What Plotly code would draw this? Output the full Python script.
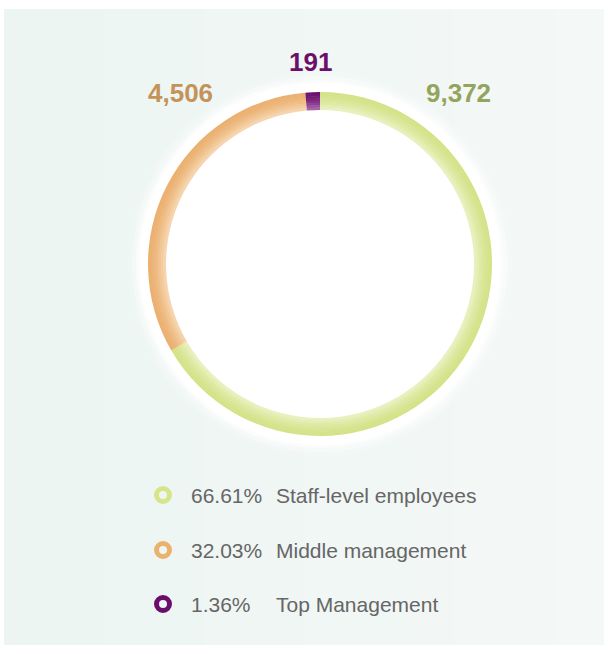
import plotly.graph_objects as go

# ---- data ----
categories = ["Staff-level employees", "Middle management", "Top Management"]
values = [9372, 4506, 191]
percents = [66.61, 32.03, 1.36]
value_labels = ["9,372", "4,506", "191"]

# ---- styles ----
outer_colors = [(212, 226, 136), (235, 176, 112), (108, 14, 110)]
inner_colors = [(232, 240, 190), (245, 212, 174), (166, 100, 168)]
label_colors = ["#93a45d", "#c4935a", "#6b0f6b"]
legend_marker_colors = ["#d6e48a", "#ebb26e", "#6b0d6b"]

W, H = 604, 645
CX, CY = 320, 264
R_OUT, R_IN = 172, 154


def dom(r):
    return dict(x=[(CX - r) / W, (CX + r) / W],
                y=[1 - (CY + r) / H, 1 - (CY - r) / H])


def mix(a, b, t):
    return "rgb(%d,%d,%d)" % tuple(round(a[k] + (b[k] - a[k]) * t) for k in range(3))


fig = go.Figure()

# ring drawn as concentric bands for a radial gradient (outer saturated, inner light)
nb = 8
step = (R_OUT - R_IN) / nb
for i in range(nb):
    ro = R_OUT - i * step + (0.6 if i > 0 else 0)
    ri = R_OUT - (i + 1) * step
    t = (i / (nb - 1)) ** 1.6
    cols = [mix(o, n, t) for o, n in zip(outer_colors, inner_colors)]
    fig.add_trace(go.Pie(
        values=values, labels=categories, domain=dom(ro), hole=ri / ro,
        sort=False, direction="clockwise", rotation=0,
        marker=dict(colors=cols, line=dict(width=0)),
        textinfo="none", hoverinfo="label+value", showlegend=False,
    ))

# legend markers
legend_y = [495, 550, 604]
fig.add_trace(go.Scatter(
    x=[163] * len(categories), y=legend_y, mode="markers",
    marker=dict(symbol="circle-open", size=13,
                color=legend_marker_colors,
                line=dict(width=5, color=legend_marker_colors)),
    hoverinfo="skip", showlegend=False,
))

shapes = []
# background panel with subtle horizontal gradient
n = 12
c0 = (236, 245, 242)
c1 = (244, 248, 247)
x0, x1 = 4, 604
for i in range(n):
    t = i / (n - 1)
    c = tuple(round(c0[k] + (c1[k] - c0[k]) * t) for k in range(3))
    shapes.append(dict(type="rect", xref="x", yref="y", layer="below",
                       x0=x0 + (x1 - x0) * i / n, x1=x0 + (x1 - x0) * (i + 1) / n + 0.5,
                       y0=9, y1=645, line=dict(width=0),
                       fillcolor="rgb(%d,%d,%d)" % c))
# white glow around ring
for r, op in [(192, 0.15), (188, 0.3), (184, 0.55), (181, 0.85), (179, 1.0)]:
    shapes.append(dict(type="circle", xref="x", yref="y", layer="below",
                       x0=CX - r, x1=CX + r, y0=CY - r, y1=CY + r,
                       line=dict(width=0), fillcolor="white", opacity=op))

annotations = []
label_pos = [(458, 93), (180, 93), (310, 62)]
for txt, (lx, ly), col in zip(value_labels, label_pos, label_colors):
    annotations.append(dict(
        x=lx, y=ly, xref="x", yref="y", showarrow=False,
        text="<b>%s</b>" % txt,
        font=dict(family="Liberation Sans, Arial", size=26, color=col),
        xanchor="center", yanchor="middle"))

for p, cat, ly in zip(percents, categories, legend_y):
    annotations.append(dict(
        x=189, y=ly, xref="x", yref="y", showarrow=False,
        text="%.2f%%" % p, xanchor="left", yanchor="middle",
        font=dict(family="Liberation Sans, Arial", size=21, color="#666666")))
    annotations.append(dict(
        x=274, y=ly, xref="x", yref="y", showarrow=False,
        text=cat, xanchor="left", yanchor="middle",
        font=dict(family="Liberation Sans, Arial", size=21, color="#666666")))

fig.update_layout(
    width=W, height=H,
    margin=dict(l=0, r=0, t=0, b=0),
    paper_bgcolor="white", plot_bgcolor="rgba(0,0,0,0)",
    xaxis=dict(range=[0, W], visible=False, fixedrange=True),
    yaxis=dict(range=[H, 0], visible=False, fixedrange=True),
    shapes=shapes, annotations=annotations,
    showlegend=False,
)

fig.write_html("out.html")
